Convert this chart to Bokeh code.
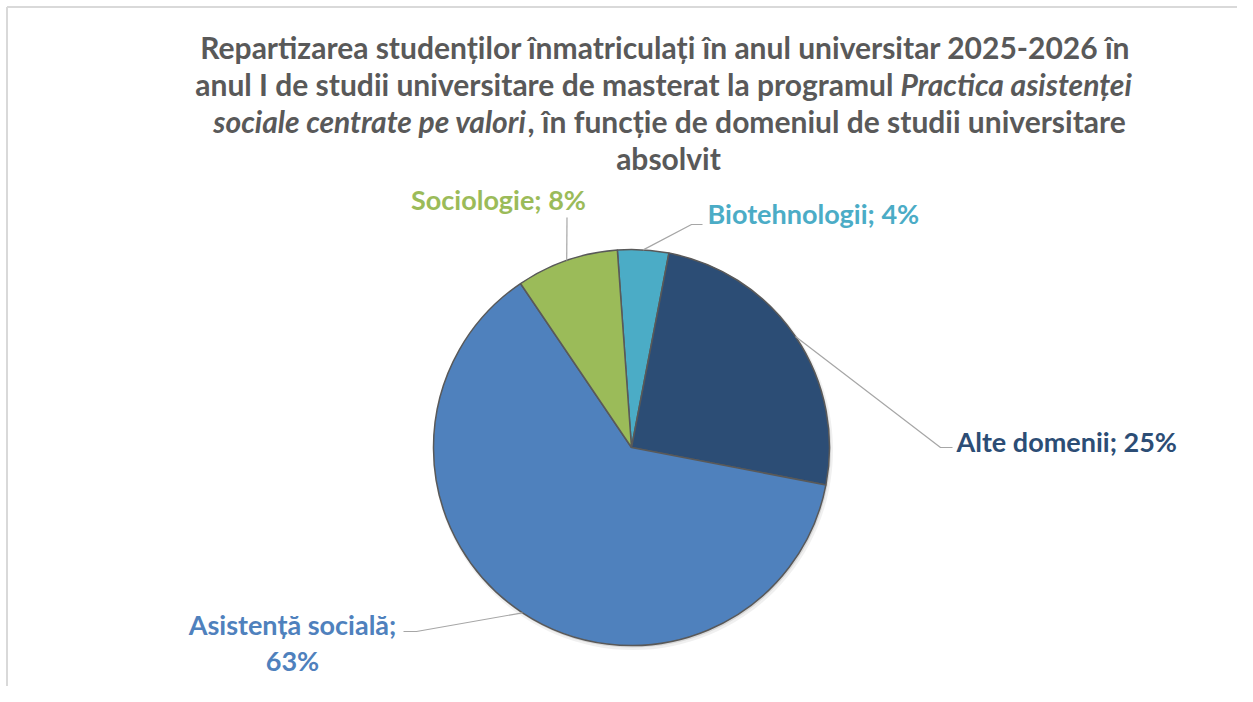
import math
from bokeh.plotting import figure
from bokeh.models import Range1d, ColumnDataSource
from bokeh.core.properties import value
from bokeh.embed import file_html
from bokeh.resources import INLINE

# ---------------- data ----------------
categories = ["Biotehnologii", "Alte domenii", "Asistență socială", "Sociologie"]
students = [1, 6, 15, 2]
slice_colors = ["#4BACC6", "#2C4D75", "#4F81BD", "#9BBB59"]

title_lines = [
    [("Repartizarea studenților înmatriculați în anul universitar 2025-2026 în", "bold")],
    [("anul I de studii universitare de masterat la programul", "bold"),
     ("Practica asistenței", "bold italic")],
    [("sociale centrate pe valori", "bold italic"),
     (", în funcție de domeniul de studii universitare", "bold")],
    [("absolvit", "bold")],
]

# ---------------- layout (screen pixels) ----------------
W, H = 1237, 686
def X(sx):
    return sx
def Y(sy):
    return H - sy

CX, CY, R = 631, 447, 198
FIRST_ANGLE = -4.1  # degrees clockwise from 12 o'clock

FONT = "Lato"
TITLE_COLOR = "#595959"

p = figure(width=W, height=H, x_range=Range1d(0, W), y_range=Range1d(0, H),
           output_backend="svg", toolbar_location=None, min_border=0,
           x_axis_location=None, y_axis_location=None)
p.grid.visible = False
p.outline_line_color = None
p.background_fill_color = "white"
p.border_fill_color = "white"

# chart-area border (top and left visible)
p.line([X(6.5), X(6.5)], [Y(6.5), 0], line_color="#D9D9D9", line_width=2)
p.line([X(6.5), W], [Y(6.5), Y(6.5)], line_color="#D9D9D9", line_width=2)

# ---------------- pie ----------------
total = sum(students)
starts, ends, mids = [], [], []
cum = FIRST_ANGLE
for v in students:
    t0 = cum
    t1 = cum + 360.0 * v / total
    starts.append(math.radians(90 - t0))
    ends.append(math.radians(90 - t1))
    mids.append((t0 + t1) / 2)
    cum = t1

pcts = [int(math.floor(100.0 * v / total + 0.5)) for v in students]

# soft shadow
p.circle(x=[X(CX) + 1.5], y=[Y(CY) - 2.5], radius=R + 2, fill_color="#000000",
         fill_alpha=0.06, line_color=None)
p.circle(x=[X(CX) + 1], y=[Y(CY) - 1.5], radius=R + 0.5, fill_color="#000000",
         fill_alpha=0.10, line_color=None)

src = ColumnDataSource(dict(start=starts, end=ends, color=slice_colors, cat=categories))
p.wedge(x=X(CX), y=Y(CY), radius=R, start_angle="start", end_angle="end",
        direction="clock", fill_color="color", line_color="#595959",
        line_width=1.5, source=src)

# ---------------- data labels with leader lines ----------------
label_layout = {
    "Biotehnologii": dict(path=[(691, 224), (702, 224)], text_x=707, text_y=213, align="left"),
    "Alte domenii": dict(path=[(940, 447), (952, 447)], text_x=956, text_y=441, align="left"),
    "Asistență socială": dict(path=[(416, 631), (403, 631)], text_x=292, text_y=624, align="center"),
    "Sociologie": dict(path=[(566.5, 217)], text_x=498, text_y=199, align="center"),
}

xs, ys = [], []
for cat, m in zip(categories, mids):
    sx = CX + R * math.sin(math.radians(m))
    sy = CY - R * math.cos(math.radians(m))
    pts = [(sx, sy)] + label_layout[cat]["path"]
    xs.append([X(a) for a, b in pts])
    ys.append([Y(b) for a, b in pts])
p.multi_line(xs, ys, line_color="#A6A6A6", line_width=1.2)

LABEL_SIZE = "27px"
for cat, pc, col in zip(categories, pcts, slice_colors):
    lay = label_layout[cat]
    if cat == "Asistență socială":
        lines = [f"{cat};", f"{pc}%"]
    else:
        lines = [f"{cat}; {pc}%"]
    for i, t in enumerate(lines):
        p.text(x=[X(lay["text_x"])], y=[Y(lay["text_y"] + i * 36)], text=[t],
               text_font=value(FONT), text_font_style="bold",
               text_font_size=LABEL_SIZE, text_color=col,
               text_align=lay["align"], text_baseline="middle")

# ---------------- title ----------------
TITLE_SIZE = "30px"
title_pos = [
    [(665, "center")],
    [(893, "right"), (900, "left")],
    [(526, "right"), (527, "left")],
    [(668, "center")],
]
title_y = [46, 83, 120, 157]
for line, pos, ty in zip(title_lines, title_pos, title_y):
    for (t, style), (tx, al) in zip(line, pos):
        p.text(x=[X(tx)], y=[Y(ty)], text=[t], text_font=value(FONT),
               text_font_style=style, text_font_size=TITLE_SIZE,
               text_color=TITLE_COLOR, text_align=al, text_baseline="middle")

open("out.html", "w").write(file_html(p, INLINE))
